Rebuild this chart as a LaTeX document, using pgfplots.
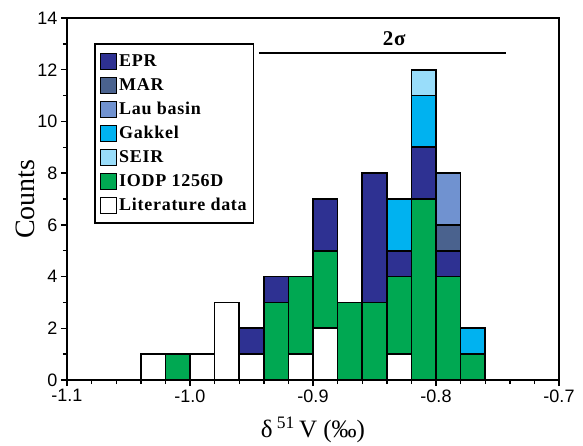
\documentclass[border=0pt]{standalone}
\usepackage{fontspec}
\setmainfont{Liberation Serif}
\newfontfamily\arialfont{Liberation Sans}
\newfontfamily\legfont[LetterSpace=4]{Liberation Serif}
\usepackage{pgfplots}
\pgfplotsset{compat=1.18}
\usepackage{pgfplotstable}

\definecolor{cEPR}{RGB}{46,49,146}
\definecolor{cMAR}{RGB}{74,98,142}
\definecolor{cLau}{RGB}{112,146,208}
\definecolor{cGak}{RGB}{0,178,240}
\definecolor{cSEIR}{RGB}{153,221,250}
\definecolor{cIODP}{RGB}{0,168,82}

% bin centres (bin width 0.02 permil) and counts per group
\pgfplotstableread{
x     lit iodp epr mar lau gak seir
-1.03 1   0    0   0   0   0   0
-1.01 0   1    0   0   0   0   0
-0.99 1   0    0   0   0   0   0
-0.97 3   0    0   0   0   0   0
-0.95 1   0    1   0   0   0   0
-0.93 0   3    1   0   0   0   0
-0.91 1   3    0   0   0   0   0
-0.89 2   3    2   0   0   0   0
-0.87 0   3    0   0   0   0   0
-0.85 0   3    5   0   0   0   0
-0.83 1   3    1   0   0   2   0
-0.81 0   7    2   0   0   2   1
-0.79 0   4    1   1   2   0   0
-0.77 0   1    0   0   0   1   0
}\bins

\begin{document}
\begin{tikzpicture}
\useasboundingbox (-67pt,-65pt) rectangle (516pt,380pt);
\begin{axis}[
  scale only axis, width=492pt, height=362pt,
  xmin=-1.1, xmax=-0.7, ymin=0, ymax=14,
  ybar stacked, bar width=0.02,
  axis line style={line width=1.6pt},
  tick align=outside, xtick pos=bottom, ytick pos=left,
  every tick/.style={black, line width=1.4pt},
  major tick length=6pt, minor tick length=4pt,
  xtick={-1.1,-1.0,-0.9,-0.8,-0.7},
  xticklabels={-1.1,-1.0,-0.9,-0.8,-0.7},
  minor x tick num=4,
  ytick={0,2,...,14}, minor y tick num=1,
  /pgf/number format/assume math mode=true,
  ticklabel style={font=\arialfont\fontsize{18}{18}\selectfont},
  xlabel={δ\,\textsuperscript{51}\,V (‰)},
  ylabel={Counts},
  xlabel style={font=\fontsize{25}{25}\selectfont, at={(axis description cs:0.5,-0.160)}, anchor=base},
  ylabel style={font=\fontsize{28}{28}\selectfont, at={(axis description cs:-0.0854,0.5)}, anchor=center},
  every axis plot/.append style={draw=black, line width=1.6pt},
  legend image code/.code={\draw[#1, line width=1.4pt] (0pt,-8pt) rectangle (16pt,8pt);},
  legend style={at={(axis description cs:0.055,0.93)}, anchor=north west,
    draw=black, line width=1.5pt, font=\legfont\bfseries\fontsize{18}{18}\selectfont,
    nodes={text height=13pt, text depth=4pt, inner ysep=2pt},
    inner xsep=5pt, inner ysep=7pt, row sep=3pt},
  legend cell align=left,
]
\addplot[fill=white, forget plot] table[x=x, y=lit] {\bins};
\addplot[fill=cIODP, forget plot] table[x=x, y=iodp] {\bins};
\addplot[fill=cEPR, forget plot] table[x=x, y=epr] {\bins};
\addplot[fill=cMAR, forget plot] table[x=x, y=mar] {\bins};
\addplot[fill=cLau, forget plot] table[x=x, y=lau] {\bins};
\addplot[fill=cGak, forget plot] table[x=x, y=gak] {\bins};
\addplot[fill=cSEIR, forget plot] table[x=x, y=seir] {\bins};

\addlegendimage{fill=cEPR, draw=black}\addlegendentry{EPR}
\addlegendimage{fill=cMAR, draw=black}\addlegendentry{MAR}
\addlegendimage{fill=cLau, draw=black}\addlegendentry{Lau basin}
\addlegendimage{fill=cGak, draw=black}\addlegendentry{Gakkel}
\addlegendimage{fill=cSEIR, draw=black}\addlegendentry{SEIR}
\addlegendimage{fill=cIODP, draw=black}\addlegendentry{IODP 1256D}
\addlegendimage{fill=white, draw=black}\addlegendentry{Literature data}

% 2 sigma range
\draw[line width=1.6pt] (axis cs:-0.944,12.64) -- (axis cs:-0.743,12.64);
\node[font=\legfont\bfseries\fontsize{21}{21}\selectfont] at (axis cs:-0.834,13.2) {2σ};
\end{axis}
\end{tikzpicture}
\end{document}
